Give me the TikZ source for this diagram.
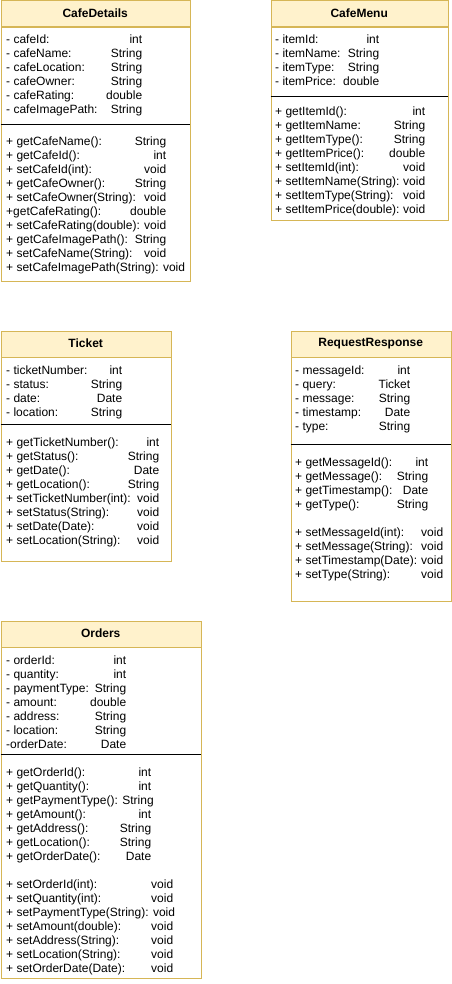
\documentclass[tikz,border=0pt]{standalone}
\usepackage{fontspec}
\setmainfont{Liberation Sans}
\usepackage{tikz}
\usetikzlibrary{positioning}
\definecolor{kopfgelb}{HTML}{FFF2CC}
\definecolor{randgold}{HTML}{D6B656}
\newlength{\typcol}
\newcommand{\mem}[2]{\makebox[\typcol][s]{#1\hfill#2}}
\newcommand{\zeilen}[1]{\begin{tabular}[t]{@{}l@{}}#1\end{tabular}}
\tikzset{
  kopf/.style   = {draw=randgold, fill=kopfgelb, anchor=north west, inner sep=0pt,
                   minimum height=26pt, font=\fontsize{12}{14}\selectfont\bfseries},
  klasse/.style = {draw=randgold, fill=white, inner sep=0pt},
  felder/.style = {anchor=base west, inner sep=0pt, font=\fontsize{12}{14}\selectfont,
                   execute at begin node={\setlength{\typcol}{#1}}},
  trenner/.style = {draw=black},
}
\begin{document}
\begin{tikzpicture}[x=1pt, y=-1pt]
  \useasboundingbox (0,0) rectangle (451,984);

  % CafeDetails
  \node[kopf, minimum width=189pt] (cafedetails) at (0.5,0.5) {CafeDetails};
  \node[klasse, minimum width=189pt, minimum height=254.5pt, below=0pt of cafedetails] (cafedetails-body) {};
  \draw[trenner] (cafedetails-body.west |- 0,124) -- (cafedetails-body.east |- 0,124);
  \node[felder=136pt] (cafedetails-attr) at (6,44) {\zeilen{
    \mem{- cafeId:}{int}\\
    \mem{- cafeName:}{String}\\
    \mem{- cafeLocation:}{String}\\
    \mem{- cafeOwner:}{String}\\
    \mem{- cafeRating:}{double}\\
    \mem{- cafeImagePath:}{String}}};
  \node[felder=160pt] (cafedetails-meth) at (6,146) {\zeilen{
    \mem{+ getCafeName():}{String}\\
    \mem{+ getCafeId():}{int}\\
    \mem{+ setCafeId(int):}{void}\\
    \mem{+ getCafeOwner():}{String}\\
    \mem{+ setCafeOwner(String):}{void}\\
    \mem{+getCafeRating():}{double}\\
    \mem{+ setCafeRating(double):}{void}\\
    \mem{+ getCafeImagePath():}{String}\\
    \mem{+ setCafeName(String):}{void}\\
    + setCafeImagePath(String): void}};

  % CafeMenu
  \node[kopf, minimum width=177pt] (cafemenu) at (270.5,0.5) {CafeMenu};
  \node[klasse, minimum width=177pt, minimum height=193pt, below=0pt of cafemenu] (cafemenu-body) {};
  \draw[trenner] (cafemenu-body.west |- 0,96) -- (cafemenu-body.east |- 0,96);
  \node[felder=104pt] (cafemenu-attr) at (275,44) {\zeilen{
    \mem{- itemId:}{int}\\
    \mem{- itemName:}{String}\\
    \mem{- itemType:}{String}\\
    \mem{- itemPrice:}{double}}};
  \node[felder=150pt] (cafemenu-meth) at (275,116) {\zeilen{
    \mem{+ getItemId():}{int}\\
    \mem{+ getItemName:}{String}\\
    \mem{+ getItemType():}{String}\\
    \mem{+ getItemPrice():}{double}\\
    \mem{+ setItemId(int):}{void}\\
    \mem{+ setItemName(String):}{void}\\
    \mem{+ setItemType(String):}{void}\\
    \mem{+ setItemPrice(double):}{void}}};

  % Ticket
  \node[kopf, minimum width=170pt] (ticket) at (0.5,330.5) {Ticket};
  \node[klasse, minimum width=170pt, minimum height=204pt, below=0pt of ticket] (ticket-body) {};
  \draw[trenner] (ticket-body.west |- 0,424) -- (ticket-body.east |- 0,424);
  \node[felder=116pt] (ticket-attr) at (6,374) {\zeilen{
    \mem{- ticketNumber:}{int}\\
    \mem{- status:}{String}\\
    \mem{- date:}{Date}\\
    \mem{- location:}{String}}};
  \node[felder=153pt] (ticket-meth) at (6,446) {\zeilen{
    \mem{+ getTicketNumber():}{int}\\
    \mem{+ getStatus():}{String}\\
    \mem{+ getDate():}{Date}\\
    \mem{+ getLocation():}{String}\\
    \mem{+ setTicketNumber(int):}{void}\\
    \mem{+ setStatus(String):}{void}\\
    \mem{+ setDate(Date):}{void}\\
    \mem{+ setLocation(String):}{void}}};

  % RequestResponse
  \node[kopf, minimum width=160pt] (reqresp) at (290.5,330.5) {RequestResponse};
  \node[klasse, minimum width=160pt, minimum height=244pt, below=0pt of reqresp] (reqresp-body) {};
  \draw[trenner] (reqresp-body.west |- 0,444) -- (reqresp-body.east |- 0,444);
  \node[felder=115pt] (reqresp-attr) at (295,374) {\zeilen{
    \mem{- messageId:}{int}\\
    \mem{- query:}{Ticket}\\
    \mem{- message:}{String}\\
    \mem{- timestamp:}{Date}\\
    \mem{- type:}{String}}};
  \node[felder=133pt] (reqresp-get) at (295,466) {\zeilen{
    \mem{+ getMessageId():}{int}\\
    \mem{+ getMessage():}{String}\\
    \mem{+ getTimestamp():}{Date}\\
    \mem{+ getType():}{String}}};
  \node[felder=148pt] (reqresp-set) at (295,536) {\zeilen{
    \mem{+ setMessageId(int):}{void}\\
    \mem{+ setMessage(String):}{void}\\
    \mem{+ setTimestamp(Date):}{void}\\
    \mem{+ setType(String):}{void}}};

  % Orders
  \node[kopf, minimum width=200pt] (orders) at (0.5,620.5) {Orders};
  \node[klasse, minimum width=200pt, minimum height=331pt, below=0pt of orders] (orders-body) {};
  \draw[trenner] (orders-body.west |- 0,754) -- (orders-body.east |- 0,754);
  \node[felder=120pt] (orders-attr) at (6,664) {\zeilen{
    \mem{- orderId:}{int}\\
    \mem{- quantity:}{int}\\
    \mem{- paymentType:}{String}\\
    \mem{- amount:}{double}\\
    \mem{- address:}{String}\\
    \mem{- location:}{String}\\
    \mem{-orderDate:}{Date}}};
  \node[felder=145pt] (orders-get) at (6,776) {\zeilen{
    \mem{+ getOrderId():}{int}\\
    \mem{+ getQuantity():}{int}\\
    + getPaymentType(): String\\
    \mem{+ getAmount():}{int}\\
    \mem{+ getAddress():}{String}\\
    \mem{+ getLocation():}{String}\\
    \mem{+ getOrderDate():}{Date}}};
  \node[felder=167pt] (orders-set) at (6,888) {\zeilen{
    \mem{+ setOrderId(int):}{void}\\
    \mem{+ setQuantity(int):}{void}\\
    + setPaymentType(String): void\\
    \mem{+ setAmount(double):}{void}\\
    \mem{+ setAddress(String):}{void}\\
    \mem{+ setLocation(String):}{void}\\
    \mem{+ setOrderDate(Date):}{void}}};
\end{tikzpicture}
\end{document}
